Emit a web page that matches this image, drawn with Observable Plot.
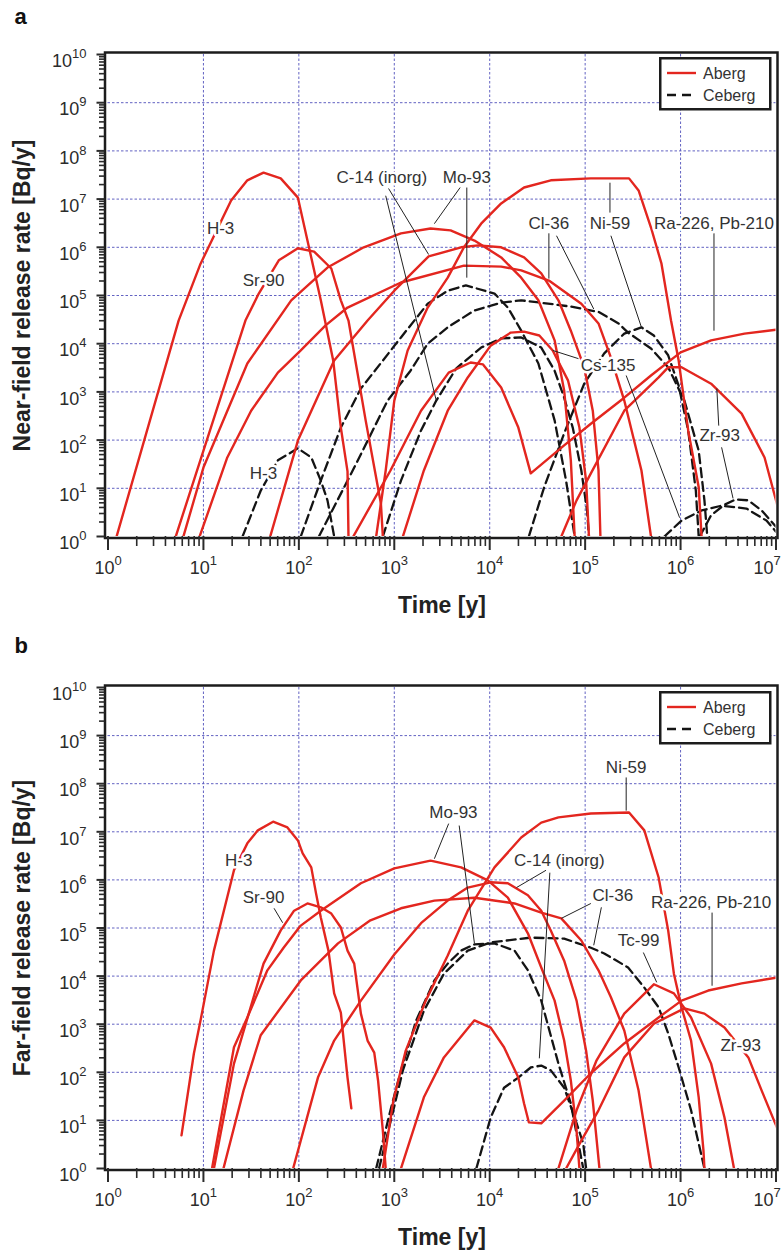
<!DOCTYPE html>
<html>
<head>
<meta charset="utf-8">
<script src="https://cdn.jsdelivr.net/npm/d3@7"></script>
<script src="https://cdn.jsdelivr.net/npm/@observablehq/plot@0.6"></script>
<style>
  body { margin: 0; background: #fff; font-family: "Liberation Sans", Arial, Helvetica, sans-serif; }
  .panel { position: relative; width: 784px; }
</style>
</head>
<body>
<div id="pa" class="panel"></div>
<div id="pb" class="panel"></div>
<script>
// ---------- DATA (pairs are [log10 time in y, log10 release rate in Bq/y]) ----------
// Panel a: near-field, Aberg (solid red)
const aH3    = [[0.09,0],[0.74,4.48],[0.97,5.66],[1.29,6.97],[1.46,7.39],[1.63,7.55],[1.81,7.43],[1.99,7.03],[2.23,4.90],[2.36,3.65],[2.44,2.26],[2.51,1.35],[2.52,0]];
const aSr90  = [[0.71,0],[1.44,4.48],[1.58,5.04],[1.79,5.73],[1.99,5.98],[2.16,5.91],[2.34,5.56],[2.44,4.90],[2.52,4.48],[2.70,2.41],[2.86,0.68],[2.88,0]];
const aMo93  = [[0.79,0],[1.00,1.43],[1.46,3.59],[1.92,4.90],[2.30,5.58],[2.68,6.00],[3.07,6.29],[3.38,6.39],[3.59,6.35],[3.84,6.14],[4.12,5.79],[4.33,5.37],[4.51,4.90],[4.68,4.07],[4.78,3.03],[4.85,1.58],[4.89,0]];
const aC14   = [[1.70,0],[1.99,1.99],[2.37,3.65],[2.72,4.48],[3.00,5.10],[3.36,5.81],[3.70,6.00],[3.88,6.04],[4.12,6.00],[4.36,5.79],[4.54,5.46],[4.72,4.90],[4.85,4.27],[4.99,3.51],[5.08,2.61],[5.14,1.37],[5.16,0]];
const aCl36  = [[0.96,0],[1.25,1.64],[1.50,2.61],[1.78,3.40],[2.02,3.86],[2.28,4.38],[2.51,4.75],[3.07,5.27],[3.73,5.62],[4.12,5.60],[4.33,5.52],[4.62,5.31],[4.96,4.83],[5.14,4.42],[5.27,3.71],[5.41,2.82],[5.59,1.37],[5.69,0]];
const aNi59  = [[2.81,0],[2.91,1.37],[3.00,2.82],[3.14,3.86],[3.35,4.75],[3.56,5.37],[3.73,6.00],[3.91,6.49],[4.12,6.91],[4.36,7.24],[4.64,7.39],[5.06,7.43],[5.46,7.43],[5.56,7.18],[5.69,6.41],[5.80,5.66],[5.90,4.48],[5.98,3.65],[6.08,2.20],[6.19,1.02],[6.22,0]];
const aCs135 = [[3.09,0],[3.31,1.37],[3.56,2.61],[3.77,3.30],[4.01,3.96],[4.22,4.23],[4.36,4.25],[4.52,4.17],[4.66,3.86],[4.82,3.24],[4.94,2.26],[5.01,1.16],[5.04,0]];
const aRa226 = [[2.57,0],[2.96,1.37],[3.28,2.61],[3.57,3.40],[3.80,3.61],[3.93,3.57],[4.12,3.09],[4.30,2.26],[4.43,1.31],[4.78,1.89],[5.06,2.34],[5.41,2.88],[5.69,3.34],[6.00,3.82],[6.32,4.07],[6.67,4.21],[7.00,4.29]];
const aZr93  = [[4.75,0],[4.91,0.75],[5.06,1.31],[5.41,2.61],[5.77,3.30],[5.87,3.51],[6.01,3.51],[6.32,3.17],[6.64,2.55],[6.88,1.64],[7.02,0.60]];
// Panel a: near-field, Ceberg (dashed black)
const adH3    = [[1.41,0],[1.60,0.95],[1.78,1.58],[1.99,1.83],[2.13,1.64],[2.23,1.16],[2.30,0.75],[2.37,0]];
const adMo93  = [[2.02,0],[2.23,1.16],[2.44,2.26],[2.65,3.07],[3.07,4.13],[3.35,4.83],[3.56,5.10],[3.75,5.21],[4.05,5.04],[4.19,4.75],[4.33,4.27],[4.51,3.59],[4.68,2.41],[4.80,1.16],[4.89,0]];
const adCl36  = [[2.21,0],[2.58,1.43],[2.93,2.82],[3.17,3.44],[3.35,4.00],[3.56,4.34],[3.84,4.69],[4.12,4.85],[4.33,4.90],[4.54,4.85],[4.85,4.77],[5.14,4.66],[5.35,4.42],[5.45,4.23],[5.69,3.90],[5.87,3.51],[6.04,2.82],[6.19,1.78],[6.25,0.75],[6.28,0]];
const adNi59  = [[4.41,0],[4.57,1.02],[4.78,2.14],[4.99,3.17],[5.20,3.80],[5.41,4.21],[5.59,4.34],[5.72,4.17],[5.87,3.76],[5.98,3.13],[6.08,2.20],[6.16,0.95],[6.19,0]];
const adC14   = [[2.88,0],[3.07,1.16],[3.28,2.20],[3.44,2.82],[3.65,3.49],[3.91,3.92],[4.12,4.11],[4.33,4.13],[4.54,3.92],[4.68,3.44],[4.78,2.88],[4.87,2.26],[4.96,1.37],[5.02,0.54],[5.04,0]];
const adCs135 = [[5.83,0],[6.01,0.33],[6.22,0.54],[6.43,0.64],[6.69,0.58],[6.90,0.33],[7.00,0.10]];
const adZr93  = [[6.20,0],[6.32,0.44],[6.46,0.66],[6.58,0.77],[6.71,0.75],[6.85,0.54],[7.00,0.20]];

// Panel b: far-field, Aberg (solid red)
const bH3    = [[0.77,0.69],[0.90,2.39],[0.97,3.08],[1.11,4.53],[1.32,6.20],[1.46,6.76],[1.57,7.03],[1.73,7.21],[1.88,7.09],[1.99,6.82],[2.04,6.55],[2.13,6.26],[2.18,5.72],[2.23,5.22],[2.31,4.53],[2.37,3.64],[2.44,3.24],[2.51,1.89],[2.55,1.25]];
const bSr90  = [[1.11,0],[1.32,2.18],[1.63,4.26],[1.81,4.95],[1.95,5.36],[2.09,5.51],[2.23,5.43],[2.34,5.30],[2.44,5.01],[2.51,4.53],[2.58,4.26],[2.65,3.22],[2.72,2.66],[2.79,2.41],[2.83,1.83],[2.88,0.79],[2.91,0]];
const bMo93  = [[1.09,0],[1.32,2.52],[1.46,3.14],[1.67,4.12],[1.84,4.59],[2.02,5.05],[2.23,5.36],[2.65,5.93],[3.00,6.24],[3.38,6.40],[3.70,6.26],[3.98,5.99],[4.19,5.63],[4.40,4.89],[4.54,4.18],[4.68,3.49],[4.78,2.66],[4.85,1.83],[4.91,0.79],[4.94,0]];
const bC14   = [[1.94,0],[2.20,1.89],[2.37,2.66],[2.65,3.49],[3.00,4.45],[3.28,5.10],[3.56,5.57],[3.77,5.84],[4.01,5.95],[4.19,5.93],[4.40,5.68],[4.54,5.36],[4.64,4.95],[4.78,4.32],[4.91,3.49],[5.01,2.45],[5.08,1.41],[5.15,0]];
const bCl36  = [[1.21,0],[1.42,1.62],[1.60,2.77],[2.02,3.91],[2.41,4.68],[2.75,5.16],[3.07,5.41],[3.42,5.57],[3.84,5.63],[4.26,5.51],[4.54,5.32],[4.75,5.20],[4.96,4.74],[5.14,4.12],[5.27,3.56],[5.41,2.87],[5.56,1.62],[5.69,0]];
const bNi59  = [[2.88,0],[2.99,1.41],[3.12,2.45],[3.33,3.49],[3.56,4.43],[3.77,5.36],[4.05,6.26],[4.33,6.88],[4.54,7.19],[4.72,7.30],[5.06,7.38],[5.46,7.40],[5.62,7.03],[5.77,6.05],[5.87,4.95],[5.93,4.05],[6.01,3.35],[6.11,2.66],[6.19,1.48],[6.24,0.37],[6.25,0]];
const bTc99  = [[4.72,0],[4.91,1.21],[5.12,2.25],[5.41,3.22],[5.72,3.83],[5.93,3.64],[6.11,3.14],[6.32,2.18],[6.46,1.06],[6.56,0]];
const bZr93  = [[4.80,0],[4.96,0.58],[5.14,1.21],[5.41,2.31],[5.72,3.01],[6.04,3.33],[6.25,3.22],[6.46,2.93],[6.71,2.31],[6.85,1.62],[7.01,0.85]];
const bRa226 = [[3.07,0],[3.31,1.48],[3.52,2.31],[3.84,3.08],[4.01,2.93],[4.15,2.52],[4.30,1.89],[4.36,1.35],[4.41,0.96],[4.54,0.94],[4.78,1.41],[5.06,1.98],[5.41,2.60],[5.77,3.14],[6.01,3.49],[6.29,3.70],[6.64,3.85],[7.01,3.97]];
// Panel b: far-field, Ceberg (dashed black)
const bdMo93 = [[2.81,0],[2.96,1.21],[3.07,2.04],[3.23,3.08],[3.42,3.91],[3.56,4.26],[3.70,4.53],[3.84,4.66],[4.05,4.68],[4.26,4.53],[4.40,4.12],[4.54,3.49],[4.72,2.18],[4.85,1.35],[4.93,0.52],[4.98,0]];
const bdCl36 = [[2.84,0],[2.99,1.21],[3.09,2.04],[3.31,3.28],[3.52,4.05],[3.77,4.53],[4.01,4.70],[4.43,4.80],[4.78,4.78],[5.06,4.59],[5.20,4.47],[5.45,4.18],[5.62,3.76],[5.77,3.35],[5.87,2.81],[5.98,2.10],[6.11,1.21],[6.25,0]];
const bdC14  = [[3.86,0],[4.01,1.06],[4.15,1.68],[4.30,1.89],[4.43,2.10],[4.54,2.14],[4.64,2.04],[4.78,1.68],[4.89,1.06],[4.98,0.52],[5.01,0]];

// Curve labels: [text, log10 time, log10 rate]
const labelsA = [["H-3",1.18,6.39],["Sr-90",1.63,5.31],["C-14 (inorg)",2.87,7.45],["Mo-93",3.76,7.45],["Cl-36",4.62,6.49],["Ni-59",5.26,6.49],["Ra-226, Pb-210",6.35,6.49],["Cs-135",5.24,3.55],["Zr-93",6.41,2.10],["H-3",1.63,1.31]];
const labelsB = [["H-3",1.37,6.40],["Sr-90",1.63,5.63],["Mo-93",3.62,7.40],["Ni-59",5.43,8.34],["C-14 (inorg)",4.73,6.40],["Cl-36",5.29,5.68],["Ra-226, Pb-210",6.32,5.53],["Tc-99",5.56,4.74],["Zr-93",6.63,2.56]];
// Leader lines: [log10 t1, log10 r1, log10 t2, log10 r2]
const leadersA = [[2.91,7.07,3.44,2.82],[2.94,7.22,3.36,5.85],[3.69,7.24,3.42,6.49],[3.76,7.24,3.76,5.37],[4.62,6.29,4.62,5.35],[4.70,6.24,5.09,4.72],[5.26,7.34,5.26,6.72],[5.27,6.24,5.59,4.34],[6.35,6.29,6.35,4.27],[4.93,3.69,4.66,3.86],[5.43,3.34,5.99,0.39],[6.38,3.07,6.40,2.30],[6.43,1.85,6.55,0.79]];
const leadersB = [[1.74,5.41,1.83,5.11],[3.57,7.17,3.42,6.44],[3.68,7.13,3.84,4.68],[5.43,8.13,5.43,7.44],[4.59,6.20,4.28,5.84],[4.63,6.15,4.52,2.29],[5.06,5.51,4.75,5.20],[5.17,5.43,5.09,4.64],[6.33,5.32,6.33,3.80],[5.61,4.49,5.75,3.87]];

// Axis ticks
const xTicks = [1, 10, 100, 1e3, 1e4, 1e5, 1e6, 1e7];
const yTicks = [1, 10, 100, 1e3, 1e4, 1e5, 1e6, 1e7, 1e8, 1e9, 1e10];
const legendItems = [{name: "Aberg", dash: null}, {name: "Ceberg", dash: "9,6"}];

// ---------- STYLE ----------
const RED = "#e3261f", BLACK = "#141414", GRID = "#6262c2", INK = "#2b2b2b";
const FONT = '"Liberation Sans", Arial, Helvetica, sans-serif';

const minorOf = ticks => ticks.slice(0, -1).flatMap(t => [2,3,4,5,6,7,8,9].map(m => m * t));
const toPts = obj => Object.entries(obj).flatMap(([name, arr]) => arr.map(([lx, ly]) => ({name, t: 10 ** lx, r: 10 ** ly})));
const toLabels = arr => arr.map(([text, lx, ly]) => ({text, t: 10 ** lx, r: 10 ** ly}));
const toLinks = arr => arr.map(([a, b, c, d]) => ({t1: 10 ** a, r1: 10 ** b, t2: 10 ** c, r2: 10 ** d}));
const supFmt = d => "10^" + Math.round(Math.log10(d));
// last x label is nudged left so that it stays inside the page
const xSupFmt = d => supFmt(d) + (d === xTicks[xTicks.length - 1] ? "@" : "");

function superscripts(svg) {
  const ns = "http://www.w3.org/2000/svg";
  svg.querySelectorAll("text").forEach(t => {
    const m = /^10\^(\d+)(@?)$/.exec(t.textContent.trim());
    if (!m) return;
    t.textContent = "10";
    if (m[2]) t.setAttribute("dx", "-9");
    const ts = document.createElementNS(ns, "tspan");
    ts.setAttribute("dy", "-9");
    ts.setAttribute("font-size", "13");
    ts.textContent = m[1];
    t.appendChild(ts);
  });
}

function makePanel(o) {
  const plot = Plot.plot({
    width: 784, height: o.height,
    marginTop: o.mt, marginBottom: o.mb, marginLeft: 107.5, marginRight: 8.5,
    style: {fontFamily: FONT, fontSize: "18px", color: INK, background: "white", overflow: "visible"},
    x: {type: "log", domain: [1, 1e7], label: null},
    y: {type: "log", domain: [1, 1e10], label: null},
    marks: [
      Plot.ruleX(xTicks.slice(1, -1), {stroke: GRID, strokeDasharray: "2.5,2", strokeWidth: 1}),
      Plot.ruleY(yTicks.slice(1, -1), {stroke: GRID, strokeDasharray: "2.5,2", strokeWidth: 1}),
      Plot.line(toPts(o.ceberg), {x: "t", y: "r", z: "name", stroke: BLACK, strokeWidth: 2.3, strokeDasharray: "9,5", clip: true}),
      Plot.line(toPts(o.aberg), {x: "t", y: "r", z: "name", stroke: RED, strokeWidth: 2.4, clip: true}),
      Plot.link(toLinks(o.leaders), {x1: "t1", y1: "r1", x2: "t2", y2: "r2", stroke: "#222", strokeWidth: 1}),
      Plot.text(toLabels(o.labels), {x: "t", y: "r", text: "text", fontSize: 17, fill: "#333", stroke: "white", strokeWidth: 5, paintOrder: "stroke"}),
      Plot.frame({stroke: "#1c1c1c", strokeWidth: 2.5, insetLeft: -3, insetRight: -1.5, insetTop: -2, insetBottom: -1.5}),
      Plot.axisX({ticks: minorOf(xTicks), tickSize: 10, tickFormat: () => "", strokeWidth: 1.6}),
      Plot.axisX({ticks: xTicks, tickSize: 14, tickFormat: () => "", strokeWidth: 2}),
      Plot.axisX({ticks: xTicks, tickSize: 0, tickPadding: 25, tickFormat: xSupFmt, fontSize: 18}),
      Plot.axisY({ticks: minorOf(yTicks), tickSize: 5.5, tickFormat: () => "", dx: -3, strokeWidth: 1.6}),
      Plot.axisY({ticks: yTicks, tickSize: 8, tickFormat: () => "", dx: -3, strokeWidth: 2}),
      Plot.axisY({ticks: yTicks, tickSize: 0, tickPadding: 18.5, tickFormat: supFmt, dx: -3, dy: 7, fontSize: 18}),
      Plot.text([o.yTitle], {text: d => d, frameAnchor: "left", dx: -85, rotate: -90, textAnchor: "middle", lineAnchor: "middle", fontSize: 23, fontWeight: "bold", fill: "#222"}),
      Plot.text(["Time [y]"], {text: d => d, frameAnchor: "bottom", dy: 69, textAnchor: "middle", lineAnchor: "middle", fontSize: 23, fontWeight: "bold", fill: "#222"}),
      Plot.text([o.letter], {text: d => d, frameAnchor: "top-left", dx: -93.5, dy: o.letterDy, textAnchor: "start", lineAnchor: "middle", fontSize: 22, fontWeight: "bold", fill: "#111"})
    ]
  });
  superscripts(plot);
  const host = document.getElementById(o.id);
  host.appendChild(plot);

  // legend box
  const lg = d3.select(host).append("svg")
    .attr("width", 113).attr("height", 54)
    .style("position", "absolute").style("left", "659px").style("top", o.legendTop + "px");
  lg.append("rect").attr("x", 1.25).attr("y", 1.25).attr("width", 110).attr("height", 51)
    .attr("fill", "white").attr("stroke", "#1c1c1c").attr("stroke-width", 2.5);
  legendItems.forEach((it, i) => {
    const y = 16 + i * 22;
    lg.append("line").attr("x1", 8).attr("x2", 37).attr("y1", y).attr("y2", y)
      .attr("stroke", it.dash ? BLACK : RED).attr("stroke-width", 2.4)
      .attr("stroke-dasharray", it.dash);
    lg.append("text").attr("x", 44).attr("y", y).attr("dy", "0.35em")
      .attr("font-family", FONT).attr("font-size", 16).attr("fill", "#333").text(it.name);
  });
}

makePanel({
  id: "pa", height: 630, mt: 54, mb: 94, legendTop: 57, letter: "a", letterDy: -38,
  yTitle: "Near-field release rate [Bq/y]",
  aberg: {H3: aH3, Sr90: aSr90, Mo93: aMo93, C14: aC14, Cl36: aCl36, Ni59: aNi59, Cs135: aCs135, Ra226: aRa226, Zr93: aZr93},
  ceberg: {H3: adH3, Mo93: adMo93, Cl36: adCl36, Ni59: adNi59, C14: adC14, Cs135: adCs135, Zr93: adZr93},
  labels: labelsA, leaders: leadersA
});
makePanel({
  id: "pb", height: 622, mt: 57, mb: 84, legendTop: 61, letter: "b", letterDy: -41.5,
  yTitle: "Far-field release rate [Bq/y]",
  aberg: {H3: bH3, Sr90: bSr90, Mo93: bMo93, C14: bC14, Cl36: bCl36, Ni59: bNi59, Tc99: bTc99, Zr93: bZr93, Ra226: bRa226},
  ceberg: {Mo93: bdMo93, Cl36: bdCl36, C14: bdC14},
  labels: labelsB, leaders: leadersB
});
</script>
</body>
</html>
